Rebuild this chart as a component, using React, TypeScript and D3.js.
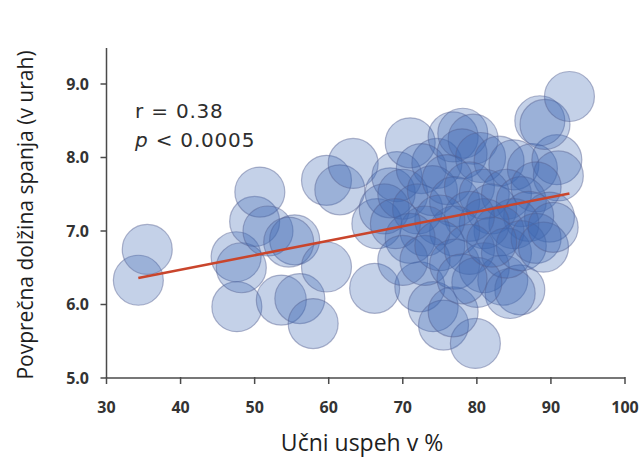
import * as d3 from "d3";

const width = 642;
const height = 460;

// učni uspeh (%) and povprečna dolžina spanja (h)
const grades = [
  34.3, 35.5,
  47.6, 47.5, 48.2, 50.0, 50.7, 51.8, 53.6, 55.4, 54.6, 56.1, 57.9, 59.7,
  59.7, 61.5, 63.3, 66.2, 66.5, 68.3, 69.2, 67.5,
  71, 74.6, 76.8, 78.1, 79.5, 72.5, 78, 80.5, 83, 85, 87.5, 90.8, 91, 88.5, 89.2, 92.5,
  70, 72, 74, 76, 77, 79, 81, 82, 84, 86, 88, 89.8, 87, 85, 83, 81, 79, 77, 75, 73, 71, 69,
  72.3, 74.1, 75.5, 79.8, 76.8, 70, 73, 75, 77, 79, 81, 83.5, 85.8, 84.5, 84, 86, 88, 89,
  90.3, 80, 78, 82,
];
const sleepHours = [
  6.33, 6.75,
  5.97, 6.65, 6.5, 7.13, 7.53, 7.0, 6.06, 6.88, 6.85, 6.08, 5.74, 6.51,
  7.69, 7.56, 7.92, 6.22, 7.1, 7.52, 7.74, 7.3,
  8.2, 7.92, 8.28, 8.33, 8.25, 7.85, 8.05, 8.0, 7.95, 7.9, 7.85, 7.97, 7.75, 8.5, 8.45, 8.83,
  7.5, 7.3, 7.55, 7.7, 7.4, 7.6, 7.5, 7.3, 7.5, 7.4, 7.6, 7.19, 7.2, 7.1, 7.0, 7.1, 7.2, 7.0, 7.15, 7.0, 6.9, 7.1,
  6.24, 5.97, 5.72, 5.47, 5.9, 6.6, 6.6, 6.8, 6.55, 6.75, 6.5, 6.33, 6.2, 6.15, 6.7, 6.8, 6.9, 6.78,
  7.05, 6.3, 6.35, 6.85,
];
const trendX = [34.3, 92.5];
const trendY = [6.36, 7.51];
const xTicks = [30, 40, 50, 60, 70, 80, 90, 100];
const yTicks = [5, 6, 7, 8, 9];

const App = () => {
  const x = d3.scaleLinear().domain([30, 100]).range([106.5, 625]);
  const y = d3.scaleLinear().domain([5, 9]).range([378, 84]);
  const line = d3
    .line<number>()
    .x((d, i) => x(d))
    .y((d, i) => y(trendY[i]));

  const axisColor = "#4a4a4a";
  const labelFont = "'Open Sans', sans-serif";

  return (
    <svg
      width={width}
      height={height}
      style={{ position: "absolute", left: 0, top: 0, background: "#fff" }}
    >
      {grades.map((g, i) => (
        <circle
          key={i}
          cx={x(g)}
          cy={y(sleepHours[i])}
          r={25}
          fill="rgb(60,104,180)"
          fillOpacity={0.3}
          stroke="rgb(85,95,145)"
          strokeOpacity={0.45}
          strokeWidth={1.2}
        />
      ))}
      <path d={line(trendX)} fill="none" stroke="#c9452c" strokeWidth={2.5} />

      {/* axes */}
      <line x1={x(30)} x2={x(30)} y1={48} y2={y(5)} stroke={axisColor} strokeWidth={1.5} />
      <line x1={x(30)} x2={x(100)} y1={y(5)} y2={y(5)} stroke={axisColor} strokeWidth={1.5} />
      {yTicks.map((t) => (
        <g key={t}>
          <line x1={x(30) - 6} x2={x(30)} y1={y(t)} y2={y(t)} stroke={axisColor} strokeWidth={1.5} />
          <text
            x={89}
            y={y(t)}
            dy=".35em"
            textAnchor="end"
            fontFamily={labelFont}
            fontWeight="bold"
            fontSize={16}
            fill="#333"
          >
            {t.toFixed(1)}
          </text>
        </g>
      ))}
      {xTicks.map((t) => (
        <g key={t}>
          <line x1={x(t)} x2={x(t)} y1={y(5) - 1} y2={y(5) + 6} stroke={axisColor} strokeWidth={1.5} />
          <text
            x={x(t)}
            y={413}
            textAnchor="middle"
            fontFamily={labelFont}
            fontWeight="bold"
            fontSize={16}
            fill="#333"
          >
            {t}
          </text>
        </g>
      ))}

      {/* titles */}
      <text
        x={362}
        y={451}
        textAnchor="middle"
        fontFamily={labelFont}
        fontSize={23}
        fontWeight={500}
        fill="#1e1e1e"
      >
        Učni uspeh v %
      </text>
      <text
        transform="translate(33,215) rotate(-90)"
        textAnchor="middle"
        fontFamily={labelFont}
        fontSize={21}
        fontWeight={500}
        fill="#1e1e1e"
      >
        Povprečna dolžina spanja (v urah)
      </text>

      {/* statistics */}
      <text x={135} y={118} fontFamily="'DejaVu Sans', sans-serif" fontSize={20} letterSpacing={0.8} fill="#2e2e2e">
        r = 0.38
      </text>
      <text x={135} y={147} fontFamily="'DejaVu Sans', sans-serif" fontSize={20} letterSpacing={0.8} fill="#2e2e2e">
        <tspan fontStyle="italic">p</tspan> &lt; 0.0005
      </text>
    </svg>
  );
};

export default App;
